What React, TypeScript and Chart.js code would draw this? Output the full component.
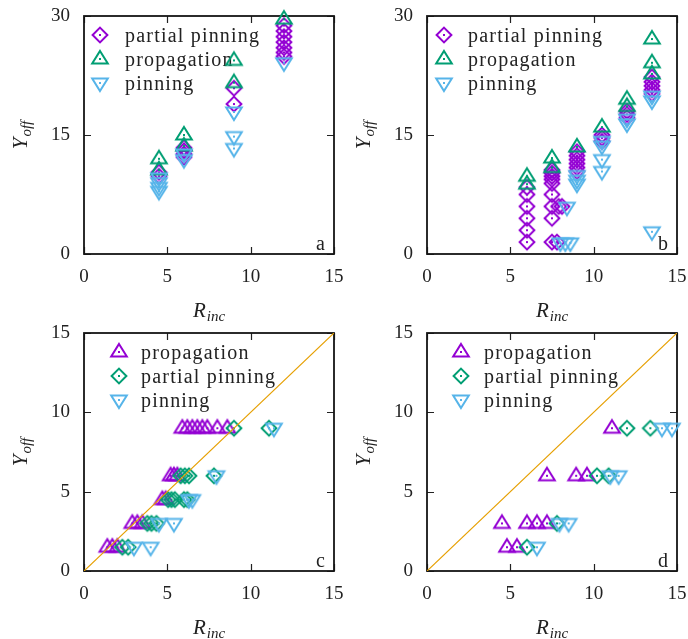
import { useEffect, useRef } from "react";
import { Chart, registerables } from "chart.js";

Chart.register(...registerables);

// ---------------- data ----------------
const xTickValues = [0, 5, 10, 15];
const yTickValuesTop = [0, 15, 30];
const yTickValuesBottom = [0, 5, 10, 15];
const diagonalX = [0, 15];
const diagonalY = [0, 15];

const labelPartial = "partial pinning";
const labelProp = "propagation";
const labelPin = "pinning";

// panel a
const aPartialX = [4.5, 4.5, 6, 6, 6, 6, 9, 9, 12, 12, 12, 12, 12, 12, 12];
const aPartialY = [10.3, 9.8, 13.4, 13.0, 12.6, 12.2, 20.9, 18.9, 28.8, 28.1, 27.4, 26.7, 26.0, 25.4, 24.9];
const aPropX = [4.5, 4.5, 6, 6, 9, 9, 12];
const aPropY = [12.0, 10.6, 15.0, 13.6, 24.4, 21.6, 29.6];
const aPinX = [4.5, 4.5, 4.5, 4.5, 6, 6, 9, 9, 9, 12];
const aPinY = [9.6, 9.0, 8.4, 7.9, 12.6, 11.9, 17.9, 14.8, 13.3, 24.1];

// panel b
const bPartialX = [6, 6, 6, 6, 6, 6, 7.5, 7.5, 7.5, 7.5, 7.5, 7.5, 7.5, 7.5, 7.5, 7.9, 8.1, 7.8, 9, 9, 9, 9, 9, 9, 10.5, 10.5, 10.5, 12, 12, 12, 13.5, 13.5, 13.5, 13.5, 13.5];
const bPartialY = [8.4, 7.5, 6.0, 4.5, 3.0, 1.5, 10.6, 10.2, 9.8, 9.4, 8.9, 7.5, 6.0, 4.5, 1.5, 6.0, 6.0, 1.5, 12.9, 12.4, 11.9, 11.4, 10.9, 10.4, 15.0, 14.6, 14.2, 18.0, 17.6, 17.2, 22.3, 21.7, 21.2, 20.7, 20.2];
const bPropX = [6, 6, 7.5, 7.5, 9, 10.5, 12, 12, 13.5, 13.5, 13.5];
const bPropY = [9.8, 8.8, 12.1, 10.9, 13.5, 16.0, 19.5, 18.6, 27.1, 24.1, 22.7];
const bPinX = [8.4, 8.0, 8.3, 8.6, 9, 9, 9, 10.5, 10.5, 10.5, 10.5, 12, 12, 13.5, 13.5, 13.5];
const bPinY = [5.9, 1.4, 1.4, 1.4, 9.9, 9.3, 8.8, 14.2, 13.6, 11.9, 10.4, 17.0, 16.4, 19.9, 19.3, 2.8];

// panel c
const cPropX = [5.9, 6.2, 6.5, 6.8, 7.1, 7.4, 8.0, 8.6, 5.2, 5.4, 5.6, 4.7, 4.9, 2.9, 3.2, 3.5, 1.4, 1.7, 2.0];
const cPropY = [9, 9, 9, 9, 9, 9, 9, 9, 6, 6, 6, 4.5, 4.5, 3, 3, 3, 1.5, 1.5, 1.5];
const cPartialX = [9.0, 11.1, 5.8, 6.05, 6.3, 7.8, 5.05, 5.25, 5.45, 6.0, 6.2, 3.8, 4.05, 4.35, 2.3, 2.65];
const cPartialY = [9, 9, 6, 6, 6, 6, 4.5, 4.5, 4.5, 4.5, 4.5, 3, 3, 3, 1.5, 1.5];
const cPinX = [11.4, 7.95, 6.3, 6.5, 4.5, 5.4, 3.0, 4.0];
const cPinY = [9, 6, 4.5, 4.5, 3, 3, 1.5, 1.5];

// panel d
const dPropX = [11.1, 7.2, 8.95, 9.6, 4.5, 6.0, 6.6, 7.2, 4.8, 5.4];
const dPropY = [9, 6, 6, 6, 3, 3, 3, 3, 1.5, 1.5];
const dPartialX = [12.0, 13.4, 10.2, 10.9, 7.8, 6.0];
const dPartialY = [9, 9, 6, 6, 3, 1.5];
const dPinX = [14.1, 14.7, 11.0, 11.5, 7.95, 8.5, 6.6];
const dPinY = [9, 9, 6, 6, 3, 3, 1.5];

// ---------------- styles ----------------
const PURPLE = "#9400d3";
const GREEN = "#009e73";
const BLUE = "#56b4e9";
const ORANGE = "#e69f00";
const TEXT = "#222222";
const FONT = "'Liberation Serif', 'Times New Roman', serif";

type Kind = "diamond" | "up" | "down";

function makeMarker(kind: Kind, color: string): HTMLCanvasElement {
  const s = 24;
  const c = document.createElement("canvas");
  c.width = s;
  c.height = s;
  const ctx = c.getContext("2d")!;
  const m = s / 2;
  ctx.strokeStyle = color;
  ctx.fillStyle = color;
  ctx.lineWidth = 2;
  ctx.lineJoin = "miter";
  ctx.beginPath();
  if (kind === "diamond") {
    const r = 7.4;
    ctx.moveTo(m, m - r);
    ctx.lineTo(m + r, m);
    ctx.lineTo(m, m + r);
    ctx.lineTo(m - r, m);
  } else if (kind === "up") {
    ctx.moveTo(m, m - 8);
    ctx.lineTo(m + 7.8, m + 4.5);
    ctx.lineTo(m - 7.8, m + 4.5);
  } else {
    ctx.moveTo(m, m + 8);
    ctx.lineTo(m + 7.8, m - 4.5);
    ctx.lineTo(m - 7.8, m - 4.5);
  }
  ctx.closePath();
  ctx.stroke();
  ctx.fillRect(m - 1, m - 1, 2, 2);
  return c;
}

type Series = { label: string; xs: number[]; ys: number[]; kind: Kind; color: string };
type PanelSpec = {
  letter: string;
  left: number;
  top: number;
  yMax: number;
  yTicks: number[];
  series: Series[];
  diagonal: boolean;
  legSymX: number;
  legTextX: number;
};

const panels: PanelSpec[] = [
  {
    letter: "a", left: 0, top: 0, yMax: 30, yTicks: yTickValuesTop, diagonal: false, legSymX: 16, legTextX: 41,
    series: [
      { label: labelPartial, xs: aPartialX, ys: aPartialY, kind: "diamond", color: PURPLE },
      { label: labelProp, xs: aPropX, ys: aPropY, kind: "up", color: GREEN },
      { label: labelPin, xs: aPinX, ys: aPinY, kind: "down", color: BLUE },
    ],
  },
  {
    letter: "b", left: 343, top: 0, yMax: 30, yTicks: yTickValuesTop, diagonal: false, legSymX: 17, legTextX: 41,
    series: [
      { label: labelPartial, xs: bPartialX, ys: bPartialY, kind: "diamond", color: PURPLE },
      { label: labelProp, xs: bPropX, ys: bPropY, kind: "up", color: GREEN },
      { label: labelPin, xs: bPinX, ys: bPinY, kind: "down", color: BLUE },
    ],
  },
  {
    letter: "c", left: 0, top: 317, yMax: 15, yTicks: yTickValuesBottom, diagonal: true, legSymX: 35, legTextX: 57,
    series: [
      { label: labelProp, xs: cPropX, ys: cPropY, kind: "up", color: PURPLE },
      { label: labelPartial, xs: cPartialX, ys: cPartialY, kind: "diamond", color: GREEN },
      { label: labelPin, xs: cPinX, ys: cPinY, kind: "down", color: BLUE },
    ],
  },
  {
    letter: "d", left: 343, top: 317, yMax: 15, yTicks: yTickValuesBottom, diagonal: true, legSymX: 34, legTextX: 57,
    series: [
      { label: labelProp, xs: dPropX, ys: dPropY, kind: "up", color: PURPLE },
      { label: labelPartial, xs: dPartialX, ys: dPartialY, kind: "diamond", color: GREEN },
      { label: labelPin, xs: dPinX, ys: dPinY, kind: "down", color: BLUE },
    ],
  },
];

const CW = 345;
const CH = 322;

function drawSubscripted(ctx: CanvasRenderingContext2D, main: string, sub: string, cx: number, baseY: number) {
  ctx.font = `italic 21px ${FONT}`;
  const w1 = ctx.measureText(main).width;
  ctx.font = `italic 15px ${FONT}`;
  const w2 = ctx.measureText(sub).width;
  const x0 = cx - (w1 + w2 + 1) / 2;
  ctx.textAlign = "left";
  ctx.textBaseline = "alphabetic";
  ctx.font = `italic 21px ${FONT}`;
  ctx.fillText(main, x0, baseY);
  ctx.font = `italic 15px ${FONT}`;
  ctx.fillText(sub, x0 + w1 + 1, baseY + 4);
}

function makePlugin(p: PanelSpec, imgs: HTMLCanvasElement[]) {
  return {
    id: "deco" + p.letter,
    beforeDatasetsDraw(chart: any) {
      const { ctx, chartArea: a } = chart;
      const xs = chart.scales.x;
      const ys = chart.scales.y;
      ctx.save();
      // legend
      ctx.font = `20px ${FONT}`;
      ctx.fillStyle = TEXT;
      ctx.textAlign = "left";
      ctx.textBaseline = "middle";
      try { (ctx as any).letterSpacing = "1.2px"; } catch (e) {}
      p.series.forEach((s, i) => {
        const y = a.top + 19 + i * 24;
        const img = imgs[i];
        ctx.drawImage(img, a.left + p.legSymX - img.width / 2, y - img.height / 2);
        ctx.fillText(s.label, a.left + p.legTextX, y + 1.5);
      });
      try { (ctx as any).letterSpacing = "0px"; } catch (e) {}
      // inward ticks
      ctx.strokeStyle = "#222";
      ctx.lineWidth = 1.2;
      ctx.beginPath();
      xTickValues.forEach((v) => {
        const px = Math.round(xs.getPixelForValue(v)) + 0.5;
        ctx.moveTo(px, a.bottom); ctx.lineTo(px, a.bottom - 7);
        ctx.moveTo(px, a.top); ctx.lineTo(px, a.top + 7);
      });
      p.yTicks.forEach((v) => {
        const py = Math.round(ys.getPixelForValue(v)) + 0.5;
        ctx.moveTo(a.left, py); ctx.lineTo(a.left + 7, py);
        ctx.moveTo(a.right, py); ctx.lineTo(a.right - 7, py);
      });
      ctx.stroke();
      // frame
      ctx.strokeStyle = "#151515";
      ctx.lineWidth = 1.8;
      ctx.strokeRect(a.left, a.top, a.right - a.left, a.bottom - a.top);
      ctx.restore();
    },
    afterDraw(chart: any) {
      const { ctx, chartArea: a } = chart;
      ctx.save();
      ctx.fillStyle = TEXT;
      // panel letter
      ctx.font = `20px ${FONT}`;
      ctx.textAlign = "right";
      ctx.textBaseline = "alphabetic";
      ctx.fillText(p.letter, a.right - 9, a.bottom - 4);
      // x title
      drawSubscripted(ctx, "R", "inc", (a.left + a.right) / 2, a.bottom + 63);
      // y title
      ctx.translate(a.left - 64, (a.top + a.bottom) / 2);
      ctx.rotate(-Math.PI / 2);
      drawSubscripted(ctx, "Y", "off", 0, 7);
      ctx.restore();
    },
  };
}

function zeroPadding(s: any) {
  s.paddingLeft = 0;
  s.paddingRight = 0;
  s.paddingTop = 0;
  s.paddingBottom = 0;
}

function Panel({ spec }: { spec: PanelSpec }) {
  const ref = useRef<HTMLCanvasElement | null>(null);
  useEffect(() => {
    if (!ref.current) return;
    const imgs = spec.series.map((s) => makeMarker(s.kind, s.color));
    const datasets: any[] = spec.series.map((s, i) => ({
      label: s.label,
      data: s.xs.map((x, j) => ({ x, y: s.ys[j] })),
      pointStyle: imgs[i],
      pointRadius: 7,
      pointHoverRadius: 7,
      borderColor: s.color,
      backgroundColor: s.color,
      clip: false,
      order: -i,
    }));
    if (spec.diagonal) {
      datasets.push({
        label: "y=x",
        data: diagonalX.map((x, j) => ({ x, y: diagonalY[j] })),
        showLine: true,
        borderColor: ORANGE,
        borderWidth: 1.2,
        pointRadius: 0,
        order: -10,
      });
    }
    const tickFont = { family: FONT, size: 19 };
    const chart = new Chart(ref.current, {
      type: "scatter",
      data: { datasets },
      plugins: [makePlugin(spec, imgs)],
      options: {
        animation: false,
        responsive: false,
        maintainAspectRatio: false,
        events: [],
        layout: { padding: { top: 16, right: 11, left: 0, bottom: 0 } },
        plugins: { legend: { display: false }, tooltip: { enabled: false } },
        scales: {
          x: {
            type: "linear",
            min: 0,
            max: 15,
            afterBuildTicks: (s: any) => { s.ticks = xTickValues.map((v) => ({ value: v })); },
            afterFit: (s: any) => { s.height = 68; zeroPadding(s); },
            ticks: { font: tickFont, color: TEXT, padding: 12, maxRotation: 0 },
            grid: { display: false, drawTicks: false },
            border: { display: false },
          },
          y: {
            type: "linear",
            min: 0,
            max: spec.yMax,
            afterBuildTicks: (s: any) => { s.ticks = spec.yTicks.map((v) => ({ value: v })); },
            afterFit: (s: any) => { s.width = 84; zeroPadding(s); },
            ticks: { font: tickFont, color: TEXT, padding: 14 },
            grid: { display: false, drawTicks: false },
            border: { display: false },
          },
        },
      } as any,
    });
    return () => chart.destroy();
  }, [spec]);
  return (
    <canvas
      ref={ref}
      width={CW}
      height={CH}
      style={{ position: "absolute", left: spec.left, top: spec.top, width: CW, height: CH }}
    />
  );
}

export default function App() {
  return (
    <div style={{ position: "absolute", left: 0, top: 0, width: 688, height: 639, background: "#fff", overflow: "hidden" }}>
      {panels.map((p) => (
        <Panel key={p.letter} spec={p} />
      ))}
    </div>
  );
}
